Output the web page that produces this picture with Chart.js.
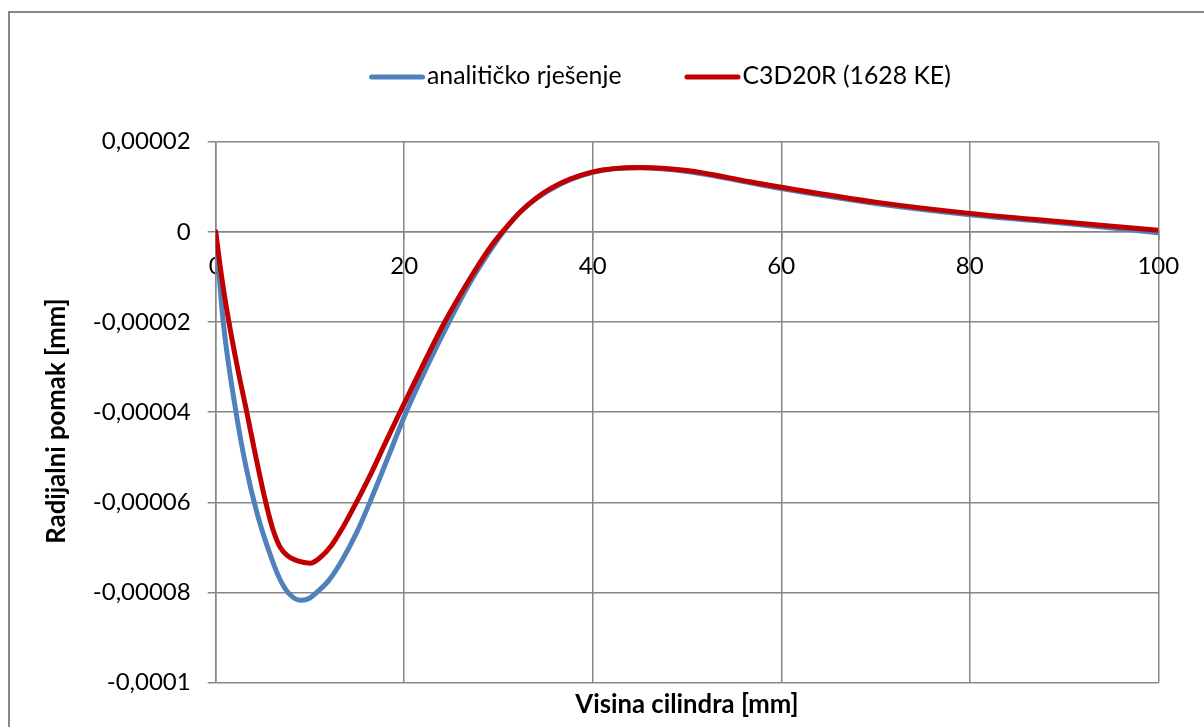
<!DOCTYPE html>
<html>
<head>
<meta charset="utf-8">
<script src="https://cdn.jsdelivr.net/npm/chart.js@4.4.1/dist/chart.umd.min.js"></script>
<style>
html,body{margin:0;padding:0;background:#fff;}
#wrap{width:1204px;height:727px;position:relative;overflow:hidden;}
canvas{display:block;}
</style>
</head>
<body>
<div id="wrap"><canvas id="c" width="1204" height="727"></canvas></div>
<script>
// ---- data ----
const seriesNames = ['analitičko rješenje', 'C3D20R (1628 KE)'];

const analyticX = [0, 0.8, 2.0, 3.2, 4.4, 5.6, 6.8, 7.8, 9.05, 10, 10.7, 12, 13.5, 15, 16.35, 18, 20.2, 22.5, 24.75, 27, 29, 30.5, 32.5, 35.5, 40, 45, 50, 56.7, 60, 70, 80, 90, 100];
const analyticY = [0, -20e-6, -38e-6, -52e-6, -62.5e-6, -70.5e-6, -77e-6, -80.3e-6, -81.7e-6, -81.2e-6, -80e-6, -77.3e-6, -72.5e-6, -66.5e-6, -60e-6, -51.5e-6, -40e-6, -29.5e-6, -20e-6, -11.2e-6, -4.5e-6, 0, 4.8e-6, 9.4e-6, 13.2e-6, 14.2e-6, 13.4e-6, 10.9e-6, 9.6e-6, 6.3e-6, 3.8e-6, 1.9e-6, -0.2e-6];

const femX = [0, 0.7, 1.4, 2.3, 3.3, 4.25, 5.2, 6.0, 6.8, 7.6, 8.7, 10, 11, 12.3, 13.5, 14.8, 16.5, 18, 19.55, 22, 24.3, 27, 29, 30.5, 32.5, 35.5, 40, 45, 50, 56.7, 60, 70, 80, 90, 100];
const femY = [0, -11e-6, -20e-6, -30e-6, -40e-6, -49.8e-6, -59e-6, -65.5e-6, -69.8e-6, -71.8e-6, -73e-6, -73.5e-6, -72.4e-6, -69.5e-6, -65.5e-6, -60.5e-6, -53.5e-6, -46.8e-6, -40e-6, -29.5e-6, -20e-6, -10.3e-6, -3.8e-6, 0.2e-6, 4.8e-6, 9.6e-6, 13.3e-6, 14.3e-6, 13.6e-6, 11.1e-6, 9.9e-6, 6.6e-6, 4.1e-6, 2.2e-6, 0.35e-6];

const xTickValues = [0, 20, 40, 60, 80, 100];
const xTickLabels = ['0', '20', '40', '60', '80', '100'];
const yTickValues = [-0.0001, -0.00008, -0.00006, -0.00004, -0.00002, 0, 0.00002];
const yTickLabels = ['-0,0001', '-0,00008', '-0,00006', '-0,00004', '-0,00002', '0', '0,00002'];
const xTitle = 'Visina cilindra [mm]';
const yTitle = 'Radijalni pomak [mm]';

// ---- styles ----
const FONT = 'Lato, "Open Sans", sans-serif';
const FS_TICK = 24;
const FS_LEGEND = 24.8;
const FS_TITLE = 25.7;
const GRID = '#878787';

const framePlugin = {
  id: 'frame',
  beforeDraw(chart) {
    const ctx = chart.ctx;
    ctx.save();
    ctx.fillStyle = '#fff';
    ctx.fillRect(0, 0, chart.width, chart.height);
    ctx.strokeStyle = '#878787';
    ctx.lineWidth = 2;
    ctx.beginPath();
    ctx.moveTo(9, chart.height + 2);
    ctx.lineTo(9, 12);
    ctx.lineTo(chart.width + 2, 12);
    ctx.stroke();
    ctx.restore();
  },
  afterDraw(chart) {
    // vertical axis title
    const ctx = chart.ctx;
    ctx.save();
    ctx.translate(57, 421);
    ctx.rotate(-Math.PI / 2);
    ctx.font = 'bold ' + FS_TITLE + 'px ' + FONT;
    ctx.fillStyle = '#000';
    ctx.textAlign = 'center';
    ctx.textBaseline = 'middle';
    ctx.fillText(yTitle, 0, 0);
    ctx.restore();
  }
};

const legendPlugin = {
  id: 'customLegend',
  afterDraw(chart) {
    const ctx = chart.ctx;
    ctx.save();
    ctx.font = FS_LEGEND + 'px ' + FONT;
    ctx.textBaseline = 'middle';
    ctx.textAlign = 'left';
    let x = 369;
    const y = 77;
    chart.data.datasets.forEach(ds => {
      ctx.strokeStyle = ds.borderColor;
      ctx.lineWidth = 5;
      ctx.lineCap = 'round';
      ctx.beginPath();
      ctx.moveTo(x + 2.5, y);
      ctx.lineTo(x + 53.5, y);
      ctx.stroke();
      ctx.fillStyle = '#000';
      ctx.fillText(ds.label, x + 58, y - 1);
      x += 58 + ctx.measureText(ds.label).width + 63;
    });
    ctx.restore();
  }
};

function build() {
  const ctx = document.getElementById('c').getContext('2d');
  new Chart(ctx, {
    type: 'line',
    data: {
      datasets: [
        {
          label: seriesNames[0],
          data: analyticX.map((x, i) => ({x: x, y: analyticY[i]})),
          borderColor: '#4F81BD',
          backgroundColor: '#4F81BD',
          borderWidth: 5,
          pointRadius: 0,
          cubicInterpolationMode: 'monotone',
          borderCapStyle: 'round',
          borderJoinStyle: 'round',
          fill: false,
          order: 2
        },
        {
          label: seriesNames[1],
          data: femX.map((x, i) => ({x: x, y: femY[i]})),
          borderColor: '#C00000',
          backgroundColor: '#C00000',
          borderWidth: 5,
          pointRadius: 0,
          cubicInterpolationMode: 'monotone',
          borderCapStyle: 'round',
          borderJoinStyle: 'round',
          fill: false,
          order: 1
        }
      ]
    },
    options: {
      responsive: false,
      animation: false,
      devicePixelRatio: 1,
      layout: {padding: {left: 0, right: 45.7, top: 141.7, bottom: 0}},
      plugins: {legend: {display: false}, tooltip: {enabled: false}, title: {display: false}},
      scales: {
        x: {
          type: 'linear',
          min: 0, max: 100,
          position: {y: 0},
          afterBuildTicks(s) { s.ticks = xTickValues.map(v => ({value: v})); },
          ticks: {
            callback: (v, i) => xTickLabels[i],
            font: {family: FONT, size: FS_TICK},
            color: '#000',
            padding: 12,
            maxRotation: 0,
            autoSkip: false
          },
          grid: {color: GRID, lineWidth: 1.5, tickLength: 8, drawTicks: true},
          border: {color: GRID, width: 1.5}
        },
        x2: {
          type: 'linear',
          min: 0, max: 100,
          position: 'bottom',
          ticks: {display: false},
          grid: {display: false, drawTicks: false},
          border: {display: false},
          title: {
            display: true,
            text: xTitle,
            color: '#000',
            font: {family: FONT, size: FS_TITLE, weight: 'bold'},
            padding: {top: 0, bottom: 7}
          },
          afterFit(s) { s.height = 44.3; }
        },
        y: {
          type: 'linear',
          min: -0.0001, max: 0.00002,
          afterBuildTicks(s) { s.ticks = yTickValues.map(v => ({value: v})); },
          ticks: {
            callback: (v, i) => yTickLabels[i],
            font: {family: FONT, size: FS_TICK},
            color: '#000',
            padding: 17
          },
          grid: {color: GRID, lineWidth: 1.5, tickLength: 8, drawTicks: true},
          border: {color: GRID, width: 1.5},
          title: {display: false},
          afterFit(s) { s.width = 215.7; }
        }
      }
    },
    plugins: [framePlugin, legendPlugin]
  });
}

if (document.fonts && document.fonts.load) {
  Promise.all([
    document.fonts.load(FS_TICK + 'px Lato'),
    document.fonts.load('bold ' + FS_TITLE + 'px Lato')
  ]).then(build, build);
} else {
  build();
}
</script>
</body>
</html>
